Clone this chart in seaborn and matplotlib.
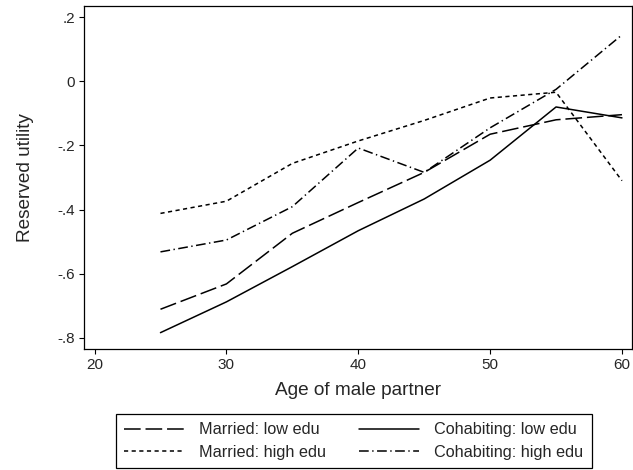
import matplotlib
matplotlib.use("Agg")
import matplotlib.pyplot as plt
import pandas as pd
import seaborn as sns

# Reserved utility by age of the male partner, by union type and education
age = [25, 30, 35, 40, 45, 50, 55, 60]
married_low = [-0.711, -0.632, -0.474, -0.378, -0.284, -0.165, -0.120, -0.104]
married_high = [-0.412, -0.374, -0.256, -0.186, -0.122, -0.052, -0.034, -0.310]
cohab_low = [-0.784, -0.688, -0.578, -0.466, -0.367, -0.246, -0.080, -0.114]
cohab_high = [-0.532, -0.495, -0.391, -0.208, -0.284, -0.145, -0.025, 0.145]

series_names = ["Married: low edu", "Married: high edu",
                "Cohabiting: low edu", "Cohabiting: high edu"]
x_ticks = [20, 30, 40, 50, 60]
y_ticks = [-0.8, -0.6, -0.4, -0.2, 0.0, 0.2]
y_tick_labels = ["-.8", "-.6", "-.4", "-.2", "0", ".2"]

frames = []
for name, vals in zip(series_names, [married_low, married_high, cohab_low, cohab_high]):
    frames.append(pd.DataFrame({"age": age, "utility": vals, "group": name}))
df = pd.concat(frames, ignore_index=True)

sns.set_theme(style="ticks")
plt.rcParams["font.family"] = ["Liberation Sans", "DejaVu Sans"]
plt.rcParams["lines.scale_dashes"] = False

fig = plt.figure(figsize=(6.33, 4.70), dpi=100)
ax = fig.add_axes([84 / 633, 1 - 349 / 470, 548 / 633, 343 / 470])

dash_styles = {
    "Married: low edu": (12, 3.5),
    "Married: high edu": (3, 2.5),
    "Cohabiting: low edu": "",
    "Cohabiting: high edu": (7, 2.5, 1, 2.5),
}

sns.lineplot(data=df, x="age", y="utility", style="group",
             style_order=series_names, dashes=dash_styles,
             color="black", linewidth=1.1, ax=ax)

ax.set_xlim(19.2, 60.76)
ax.set_ylim(-0.835, 0.235)
ax.set_xticks(x_ticks)
ax.set_xticklabels([str(t) for t in x_ticks])
ax.set_yticks(y_ticks)
ax.set_yticklabels(y_tick_labels, rotation=0)
ax.tick_params(axis="both", direction="out", length=3.5, width=0.8,
               color="black", labelsize=11, pad=3)

for side in ["top", "right", "left", "bottom"]:
    ax.spines[side].set_visible(True)
    ax.spines[side].set_color("black")
    ax.spines[side].set_linewidth(0.9)

ax.set_xlabel("Age of male partner", fontsize=13.7, labelpad=7)
ax.set_ylabel("Reserved utility", fontsize=13.7, labelpad=17)

sns.move_legend(ax, loc="upper center", bbox_to_anchor=(0.4918, -0.19),
                ncol=2, title=None, frameon=True, fancybox=False,
                fontsize=11.7, handlelength=3.7, handletextpad=0.95,
                columnspacing=2.0, labelspacing=0.45, borderpad=0.5,
                borderaxespad=0.0, edgecolor="black", framealpha=1)
leg = ax.get_legend()
leg.get_frame().set_linewidth(0.9)
for line in leg.get_lines():
    line.set_linewidth(1.1)
    line.set_color("black")

fig.savefig("out.png", dpi=100)
